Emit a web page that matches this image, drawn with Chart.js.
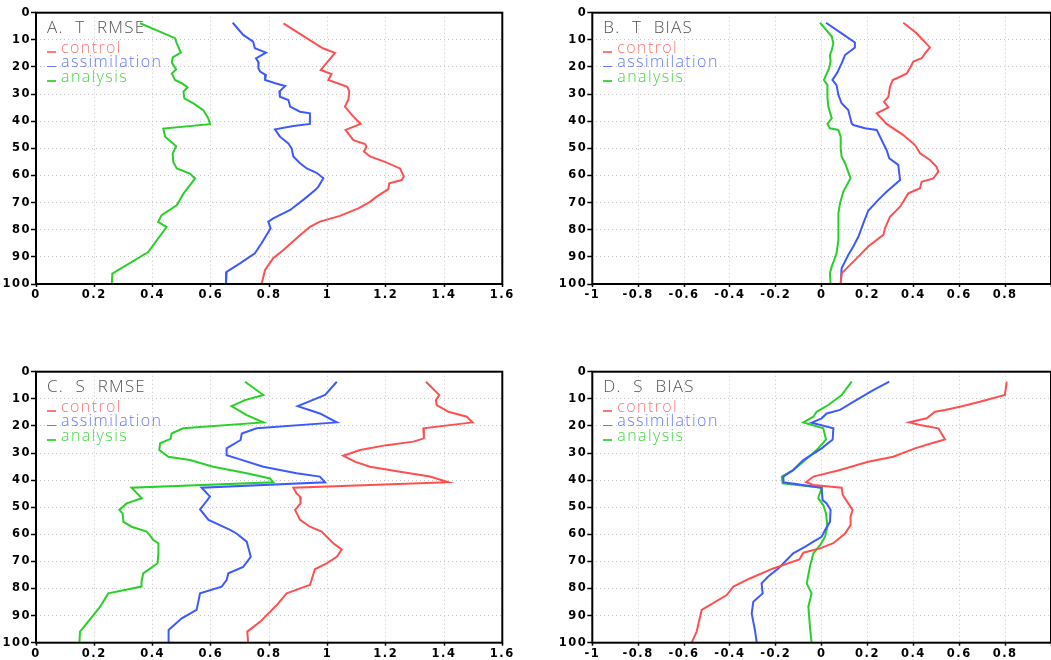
<!DOCTYPE html>
<html>
<head>
<meta charset="utf-8">
<script src="https://cdn.jsdelivr.net/npm/chart.js@4.4.1/dist/chart.umd.min.js"></script>
<style>
html, body { margin: 0; padding: 0; background: #fff; width: 1051px; height: 660px; overflow: hidden; }
.panel { position: absolute; }
.lbl { position: absolute; font-family: "Open Sans", sans-serif; font-weight: 300; white-space: pre; line-height: 20px; }
.ttl { font-size: 17px; color: #555; letter-spacing: 1.2px; word-spacing: 6px; }
.leg { font-size: 16px; letter-spacing: 1.4px; }
.mark { display: inline-block; width: 9px; height: 1.4px; margin-right: 5px; vertical-align: 0; }
</style>
</head>
<body>
<script>
// depth levels (y) and values (x)
const aCtrlD = [3.9, 13.1, 14.8, 21.1, 22.6, 24.8, 27.3, 29, 32, 34.6, 38.3, 41, 43.2, 47, 48.4, 49.4, 51.2, 53, 55, 57.4, 60.4, 61.7, 62.9, 65, 67.8, 69.7, 72.1, 74.9, 77, 78.9, 82.6, 87.5, 90.5, 94.8, 100];
const aCtrl  = [0.849, 0.984, 1.026, 0.977, 1.014, 1.003, 1.068, 1.075, 1.072, 1.06, 1.089, 1.114, 1.062, 1.089, 1.129, 1.134, 1.125, 1.146, 1.197, 1.249, 1.262, 1.255, 1.212, 1.209, 1.169, 1.146, 1.106, 1.043, 0.974, 0.94, 0.9, 0.849, 0.814, 0.786, 0.774];
const aAssD  = [3.7, 8.2, 10.7, 13.1, 14.7, 16.8, 18.4, 20.5, 21.7, 23, 24.8, 26, 27, 29.1, 31, 32.2, 34.6, 36.5, 37.1, 41, 41.8, 43, 45.7, 48.2, 50, 53, 55.5, 57.4, 59, 61, 64.1, 65.4, 69, 72.7, 75.8, 77, 79.5, 81.9, 85, 88.7, 92.4, 95.5, 100];
const aAss   = [0.675, 0.711, 0.745, 0.751, 0.789, 0.755, 0.764, 0.763, 0.769, 0.789, 0.786, 0.821, 0.855, 0.835, 0.837, 0.866, 0.872, 0.906, 0.94, 0.94, 0.883, 0.82, 0.837, 0.866, 0.877, 0.883, 0.906, 0.929, 0.963, 0.986, 0.969, 0.958, 0.917, 0.872, 0.814, 0.797, 0.805, 0.791, 0.774, 0.751, 0.7, 0.654, 0.652];
const aAnaD  = [3.9, 9.4, 11.3, 14.7, 16.5, 18.4, 20.9, 22.4, 24.8, 26, 27.5, 29.1, 31.6, 33.4, 35.9, 38.9, 41.1, 42.7, 45.7, 49.2, 51.9, 55, 57.4, 59.3, 61.1, 66.7, 71, 74.6, 77.1, 79, 88.2, 96.2, 100];
const aAna   = [0.357, 0.477, 0.483, 0.497, 0.469, 0.466, 0.481, 0.466, 0.477, 0.5, 0.52, 0.506, 0.509, 0.54, 0.574, 0.591, 0.597, 0.437, 0.443, 0.481, 0.469, 0.471, 0.483, 0.528, 0.546, 0.506, 0.483, 0.431, 0.419, 0.448, 0.385, 0.262, 0.26];

const bCtrlD = [3.7, 7.6, 12.8, 15, 16.8, 18, 19.9, 22.4, 23.6, 24.8, 27.3, 31, 32.8, 34.9, 37.1, 41, 45.1, 48.8, 51.8, 54.3, 56.8, 58.6, 61.1, 62.3, 64.7, 66.6, 71.5, 75.2, 79.5, 81.9, 86.2, 89.9, 96.1, 100];
const bCtrl  = [0.356, 0.414, 0.472, 0.451, 0.436, 0.4, 0.388, 0.371, 0.342, 0.31, 0.298, 0.291, 0.272, 0.291, 0.24, 0.283, 0.356, 0.407, 0.429, 0.472, 0.501, 0.509, 0.487, 0.436, 0.429, 0.378, 0.342, 0.298, 0.276, 0.269, 0.203, 0.16, 0.087, 0.083];
const bAssD  = [3.7, 7.6, 11, 12.8, 15.6, 18.7, 22.1, 24.8, 26.7, 30.3, 33.4, 35.9, 40.8, 41.4, 42.6, 43.2, 48.2, 50.6, 53.7, 56.1, 61.7, 66, 69, 73, 77.6, 82.6, 86.2, 89.3, 94.2, 100];
const bAss   = [0.019, 0.087, 0.145, 0.145, 0.102, 0.087, 0.068, 0.047, 0.065, 0.073, 0.087, 0.116, 0.131, 0.138, 0.189, 0.24, 0.269, 0.283, 0.295, 0.334, 0.342, 0.283, 0.247, 0.203, 0.182, 0.16, 0.138, 0.116, 0.087, 0.083];
const bAnaD  = [3.7, 8.8, 11.3, 13.8, 15.6, 18, 20.5, 24.8, 26.7, 31, 34.6, 38.9, 41, 42.6, 43.2, 45.7, 50, 53, 55.5, 61, 66, 70.3, 74, 78.9, 83.8, 88.7, 93.6, 96, 100];
const bAna   = [-0.007, 0.044, 0.051, 0.044, 0.036, 0.039, 0.032, 0.01, 0.025, 0.025, 0.029, 0.044, 0.025, 0.036, 0.073, 0.083, 0.083, 0.087, 0.102, 0.126, 0.094, 0.08, 0.073, 0.073, 0.073, 0.065, 0.044, 0.036, 0.039];

const cCtrlD = [3.7, 8.6, 10.5, 12.3, 14.8, 16.6, 18.7, 20.9, 24.6, 25.8, 27.1, 28.9, 31, 33.2, 35.1, 36.9, 38.7, 40.8, 42.8, 44.9, 46.1, 48.6, 51, 54.7, 57.2, 59, 63.3, 65.6, 68.3, 70.7, 72.9, 78.7, 79.3, 81.8, 86.1, 92.3, 95.9, 100];
const cCtrl  = [1.338, 1.384, 1.372, 1.375, 1.415, 1.478, 1.498, 1.329, 1.331, 1.295, 1.203, 1.112, 1.054, 1.094, 1.146, 1.249, 1.352, 1.415, 0.883, 0.894, 0.906, 0.908, 0.889, 0.906, 0.94, 0.98, 1.02, 1.049, 1.032, 0.997, 0.957, 0.94, 0.923, 0.86, 0.826, 0.769, 0.725, 0.728];
const cAssD  = [3.7, 8.6, 12.7, 15.4, 18.7, 20.9, 22.8, 25.2, 28.3, 30.8, 32, 35.1, 37.5, 38.7, 40.8, 42.8, 46.1, 50.8, 54.7, 58.4, 59.7, 62.7, 68.3, 72, 74.4, 76.9, 79.3, 81.8, 87.9, 91, 95.3, 100];
const cAss   = [1.032, 0.992, 0.898, 0.974, 1.032, 0.757, 0.706, 0.702, 0.654, 0.654, 0.689, 0.78, 0.894, 0.974, 0.992, 0.568, 0.597, 0.563, 0.592, 0.666, 0.688, 0.723, 0.737, 0.711, 0.66, 0.654, 0.637, 0.563, 0.551, 0.5, 0.455, 0.455];
const cAnaD  = [3.7, 8.6, 10.5, 12.7, 16, 18.7, 20.9, 22.8, 24.8, 26.4, 28.9, 31.4, 32.6, 35.1, 37.5, 39.4, 40.8, 42.8, 46.7, 48.6, 51, 52.3, 55.4, 57.2, 59, 62.1, 63.3, 67, 70.7, 74.4, 77.5, 79.3, 81.8, 86.7, 89.2, 95.9, 100];
const cAna   = [0.717, 0.78, 0.717, 0.671, 0.723, 0.78, 0.505, 0.465, 0.462, 0.426, 0.423, 0.454, 0.528, 0.608, 0.723, 0.803, 0.814, 0.328, 0.363, 0.311, 0.286, 0.297, 0.3, 0.328, 0.38, 0.403, 0.42, 0.42, 0.417, 0.368, 0.362, 0.362, 0.248, 0.22, 0.202, 0.151, 0.149];

const dCtrlD = [3.7, 8.6, 11.1, 12.9, 14.1, 14.8, 17.2, 18.7, 19.7, 20.9, 25, 26.2, 28.3, 31.4, 33.2, 36.3, 38.7, 40.8, 41.8, 42.8, 45.5, 48.6, 51, 53.5, 56.6, 59.7, 63.3, 65.2, 66.8, 69.3, 72.6, 76.3, 79.3, 82.4, 87.9, 95.9, 100];
const dCtrl  = [0.807, 0.799, 0.69, 0.603, 0.538, 0.494, 0.458, 0.382, 0.429, 0.509, 0.538, 0.487, 0.407, 0.312, 0.203, 0.08, -0.036, -0.068, -0.036, 0.087, 0.092, 0.116, 0.135, 0.126, 0.126, 0.102, 0.051, -0.007, -0.08, -0.097, -0.211, -0.313, -0.385, -0.414, -0.523, -0.545, -0.567];
const dAssD  = [3.7, 6.8, 11.1, 14.1, 15.4, 17.2, 18.8, 20.9, 25, 28.3, 32.6, 36.3, 38.7, 40.8, 42.8, 47.4, 48.6, 51, 55.4, 58.4, 60.9, 62.7, 64.6, 67, 72.6, 75.6, 78.1, 81.8, 84.9, 89.2, 95.3, 100];
const dAss   = [0.295, 0.225, 0.138, 0.08, 0.022, 0, -0.044, 0.051, 0.048, 0, -0.08, -0.124, -0.167, -0.167, 0, 0.004, 0.022, 0.039, 0.036, 0.015, 0, -0.036, -0.073, -0.124, -0.189, -0.233, -0.262, -0.257, -0.298, -0.305, -0.291, -0.283];
const dAnaD  = [3.7, 8.6, 12.3, 14.8, 16.6, 18.7, 20.9, 25, 28.3, 33.2, 36.3, 38.7, 41.2, 42.2, 42.8, 46.7, 49.2, 52.3, 57.2, 60.9, 64, 67, 71.9, 78.1, 81.8, 86.7, 94.1, 100];
const dAna   = [0.131, 0.087, 0.029, -0.022, -0.036, -0.08, 0.007, 0.019, -0.015, -0.08, -0.124, -0.174, -0.17, -0.065, 0, -0.015, 0.007, 0.019, 0.025, 0.015, -0.007, -0.036, -0.051, -0.065, -0.044, -0.058, -0.051, -0.044];

const seriesNames = ['control', 'assimilation', 'analysis'];
const lineColors = ['rgb(255,80,80)', 'rgb(60,90,255)', 'rgb(40,208,40)'];
const legendColors = ['rgb(255,120,120)', 'rgb(100,120,255)', 'rgb(70,215,70)'];
const depthTicks = [0, 10, 20, 30, 40, 50, 60, 70, 80, 90, 100];

// canvas box (x, y, w, h) and plot area (left, top, right, bottom) in page pixels
const panels = [
    { title: 'A. T RMSE', min: 0, max: 1.6, box: [0, 0, 520, 330], area: [36, 12.7, 502.3, 284], d: [[aCtrlD, aCtrl], [aAssD, aAss], [aAnaD, aAna]] },
    { title: 'B. T BIAS', min: -1, max: 1, box: [520, 0, 532, 330], area: [592.3, 12.7, 1052, 284], d: [[bCtrlD, bCtrl], [bAssD, bAss], [bAnaD, bAna]] },
    { title: 'C. S RMSE', min: 0, max: 1.6, box: [0, 330, 520, 330], area: [36, 371.7, 502.3, 642.7], d: [[cCtrlD, cCtrl], [cAssD, cAss], [cAnaD, cAna]] },
    { title: 'D. S BIAS', min: -1, max: 1, box: [520, 330, 532, 330], area: [592.3, 371.7, 1052, 642.7], d: [[dCtrlD, dCtrl], [dAssD, dAss], [dAnaD, dAna]] }
];

const frame = {
    id: 'frame',
    afterDraw(c) {
        const { left, top, right, bottom } = c.chartArea;
        const ctx = c.ctx;
        ctx.save();
        ctx.lineWidth = 2;
        ctx.strokeStyle = '#000';
        ctx.strokeRect(left, top, right - left, bottom - top);
        ctx.restore();
    }
};
const spacing = { id: 'spacing', beforeDraw(c) { c.ctx.letterSpacing = '1.5px'; } };

function addLabel(cls, html, x, baseline, color, off) {
    const el = document.createElement('div');
    el.className = 'lbl ' + cls;
    el.style.left = x + 'px';
    el.style.top = (baseline - off) + 'px';
    if (color) el.style.color = color;
    el.innerHTML = html;
    document.body.appendChild(el);
}

function makePanel(p) {
    const [bx, by, bw, bh] = p.box;
    const [L, T, R, B] = p.area;
    const wrap = document.createElement('div');
    wrap.className = 'panel';
    wrap.style.cssText = `left:${bx}px;top:${by}px;width:${bw}px;height:${bh}px;`;
    const canvas = document.createElement('canvas');
    wrap.appendChild(canvas);
    document.body.appendChild(wrap);

    const tickFont = { family: '"DejaVu Sans", sans-serif', weight: 'bold', size: 11.5 };
    new Chart(canvas, {
        type: 'scatter',
        data: {
            datasets: p.d.map((s, i) => ({
                label: seriesNames[i],
                data: s[0].map((dep, k) => ({ x: s[1][k], y: dep })),
                showLine: true,
                borderColor: lineColors[i],
                backgroundColor: lineColors[i],
                borderWidth: 2,
                pointRadius: 0,
                tension: 0
            }))
        },
        options: {
            responsive: true, maintainAspectRatio: false, animation: false,
            layout: { padding: { left: 0, top: T - by, right: bx + bw - R, bottom: 0 } },
            plugins: { legend: { display: false }, tooltip: { enabled: false } },
            scales: {
                x: {
                    type: 'linear', min: p.min, max: p.max,
                    afterFit: s => { s.height = by + bh - B; },
                    ticks: {
                        stepSize: 0.2, color: '#000', font: tickFont, padding: 1, maxRotation: 0, autoSkip: false,
                        callback: v => (Math.abs(v - 1) < 1e-6 && p.max === 1) ? '' : String(Math.round(v * 10) / 10)
                    },
                    grid: { color: '#c4c4c4', lineWidth: 1, tickColor: '#000', tickLength: 3, tickWidth: 1.5 },
                    border: { display: false, dash: [1, 3] }
                },
                y: {
                    type: 'linear', reverse: true, min: 0, max: 100,
                    afterFit: s => { s.width = L - bx; },
                    afterBuildTicks: s => { s.ticks = depthTicks.map(v => ({ value: v })); },
                    ticks: { color: '#000', font: tickFont, padding: 0, autoSkip: false },
                    grid: { color: '#c4c4c4', lineWidth: 1, tickColor: '#000', tickLength: 5, tickWidth: 1.5 },
                    border: { display: false, dash: [1, 3] }
                }
            }
        },
        plugins: [spacing, frame]
    });

    addLabel('ttl', p.title, L + 11, T + 20.5, null, 16.6);
    seriesNames.forEach((n, i) => {
        addLabel('leg', `<span class="mark" style="background:${legendColors[i]}"></span>${n}`, L + 11, T + 40 + i * 14.5, legendColors[i], 16.2);
    });
}

panels.forEach(makePanel);
</script>
</body>
</html>
